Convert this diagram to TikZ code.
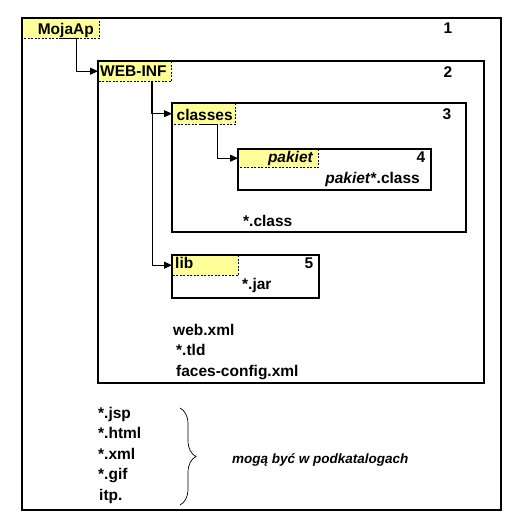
\documentclass[tikz,border=0pt]{standalone}
\usepackage{fontspec}
\setmainfont{Liberation Sans}
\usetikzlibrary{arrows.meta,decorations.pathreplacing}
\definecolor{labyellow}{RGB}{255,255,153}
\begin{document}
\begin{tikzpicture}[x=1pt,y=-1pt,
  box/.style={draw,line width=2pt,anchor=north west,inner sep=0pt},
  lab/.style={fill=labyellow,anchor=north west,inner sep=0pt},
  dashline/.style={line width=0.8pt,dash pattern=on 2pt off 1.5pt},
  conn/.style={line width=0.9pt,-{Triangle[length=8pt,width=7pt]}},
  txt/.style={font=\fontsize{15.5}{18.5}\selectfont\bfseries,inner sep=0pt},
  itx/.style={font=\fontsize{15.5}{18.5}\selectfont\bfseries\itshape,inner sep=0pt},
  note/.style={font=\fontsize{13.5}{16}\selectfont\bfseries\itshape,inner sep=0pt}]
\useasboundingbox[fill=white] (0,0) rectangle (524,531);

% yellow labels
\node[lab,minimum width=77,minimum height=21] (moja) at (22,17) {};
\node[lab,minimum width=73,minimum height=20] (webinf) at (98,61) {};
\node[lab,minimum width=63,minimum height=21] (classes) at (172,103) {};
\node[lab,minimum width=80,minimum height=18] (pakiet) at (238,149) {};
\node[lab,minimum width=66,minimum height=20] (lib) at (172,255) {};
\foreach \l in {moja,webinf,classes,pakiet,lib}
  \draw[dashline] (\l.north east) -- (\l.south east) -- (\l.south west);

% boxes
\node[box,minimum width=479,minimum height=492] (b1) at (21,17) {};
\node[box,minimum width=386,minimum height=322] (b2) at (97,60) {};
\node[box,minimum width=294,minimum height=129] (b3) at (171,102) {};
\node[box,minimum width=193,minimum height=41] (b4) at (237,148) {};
\node[box,minimum width=147,minimum height=43] (b5) at (171,254) {};

% connectors
\draw[conn] (moja.south) -- ++(16,0) |- (webinf.west);
\draw[conn] ([xshift=16.5pt]webinf.south) |- (classes.west);
\draw[conn] ([xshift=17.5pt]webinf.south) |- (lib.west);
\draw[conn] ([xshift=-4pt]classes.south) -- ++(18,0) |- (pakiet.west);

% texts
\node[txt,anchor=base east] (tmoja) at (94,34) {MojaAp};
\node[txt,anchor=base] (n1) at (448,33) {1};
\node[txt,anchor=base west] (twebinf) at (100,76) {WEB-INF};
\node[txt,anchor=base] (n2) at (448,77) {2};
\node[txt,anchor=base west] (tclasses) at (176.5,120) {classes};
\node[txt,anchor=base] (n3) at (447,119) {3};
\node[itx,anchor=base east] (tpakiet) at (313,162) {pakiet};
\node[txt,anchor=base] (n4) at (421,162) {4};
\node[txt,anchor=base east] (tpc) at (420,183) {\textit{pakiet}*.class};
\node[txt,anchor=base west] (tcl) at (243,226) {*.class};
\node[txt,anchor=base west] (tlib) at (175,268) {lib};
\node[txt,anchor=base] (n5) at (309,268) {5};
\node[txt,anchor=base west] (tjar) at (242,289) {*.jar};
\node[txt,anchor=base west] (tweb) at (173,335) {web.xml};
\node[txt,anchor=base west] (ttld) at (176,355) {*.tld};
\node[txt,anchor=base west] (tfaces) at (176,376) {faces-config.xml};

\node[txt,anchor=base west] (tjsp) at (98,418) {*.jsp};
\node[txt,anchor=base west] (thtml) at (98,438.5) {*.html};
\node[txt,anchor=base west] (txml) at (98,459) {*.xml};
\node[txt,anchor=base west] (tgif) at (98,479.5) {*.gif};
\node[txt,anchor=base west] (titp) at (99,500) {itp.};
\draw[line width=0.7pt,decorate,decoration={brace,amplitude=16pt}] (180,408) -- (180,505);
\node[note,anchor=base west] (tnote) at (232,463) {mogą być w podkatalogach};
\end{tikzpicture}
\end{document}
